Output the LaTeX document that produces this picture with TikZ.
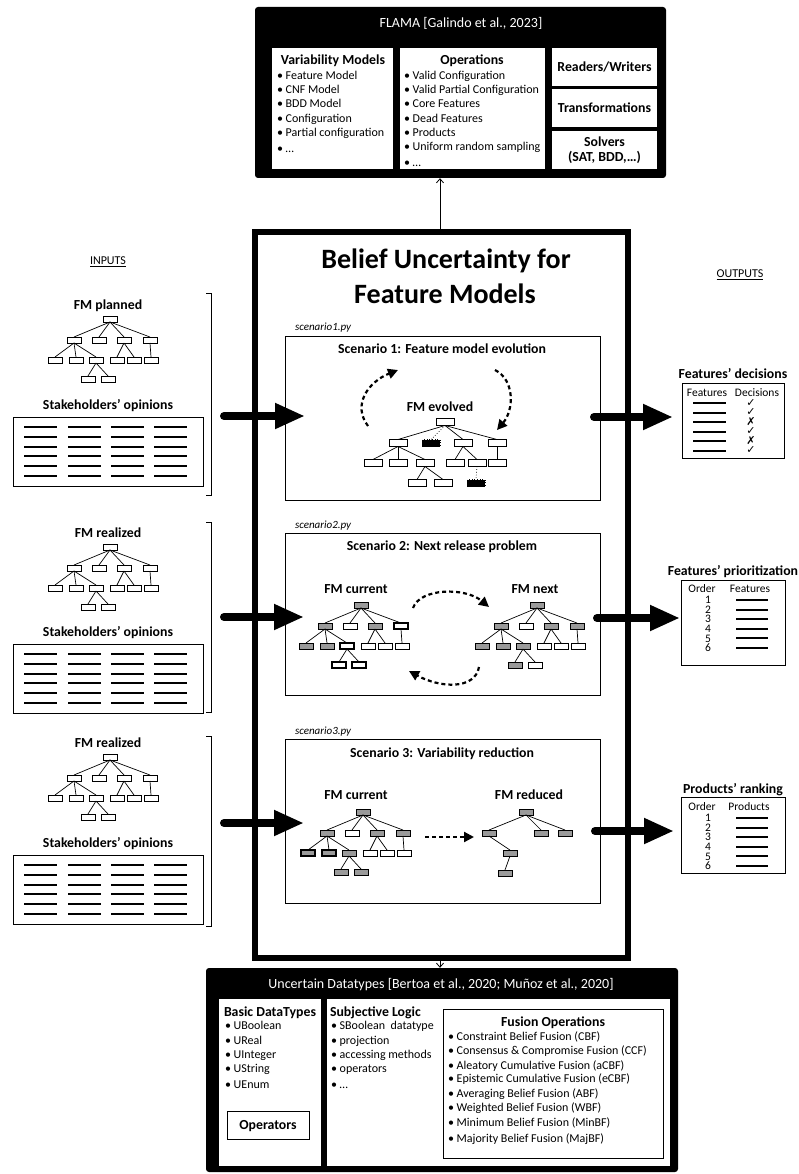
\documentclass[tikz,border=0pt]{standalone}
\usepackage{fontspec}
\setmainfont{Carlito}
\newfontfamily\symfont{DejaVu Sans}
\usetikzlibrary{arrows.meta,fit}
\definecolor{fmgray}{HTML}{9A9A9A}
\newcommand\fs[1]{\fontsize{#1}{#1}\selectfont}
% standard 13-box feature-model tree
\newcommand\fmtree[3]{%
 \node[fmbox,#1r/.try] (#1r) at (#2,#3) {};
 \node[fmbox,#1a/.try] (#1a) at (#2-36,#3+21) {};
 \node[fmbox,#1b/.try] (#1b) at (#2-11,#3+21) {};
 \node[fmbox,#1c/.try] (#1c) at (#2+14,#3+21) {};
 \node[fmbox,#1d/.try] (#1d) at (#2+40,#3+21) {};
 \node[fmbox,#1e/.try] (#1e) at (#2-55,#3+41) {};
 \node[fmbox,#1f/.try] (#1f) at (#2-34,#3+41) {};
 \node[fmbox,#1g/.try] (#1g) at (#2-14,#3+41) {};
 \node[fmbox,#1h/.try] (#1h) at (#2+7,#3+41) {};
 \node[fmbox,#1i/.try] (#1i) at (#2+24,#3+41) {};
 \node[fmbox,#1j/.try] (#1j) at (#2+41,#3+41) {};
 \node[fmbox,#1k/.try] (#1k) at (#2-22,#3+60) {};
 \node[fmbox,#1l/.try] (#1l) at (#2-2,#3+60) {};
 \foreach \xa/\xb in {r/a,r/b,r/c,r/d,a/e,a/f,a/g,g/k,g/l,c/h,c/i,d/j}
   \draw[edge] (#1\xa.south) -- (#1\xb.north);
}
% input group
\newcommand\ingroup[7]{% name, label, label base, root y, stake base, table top
 \node[ttl] (#1-lab) at (108,#3) {#2};
 \fmtree{#1-}{110}{#4}
 \node[ttl] (#1-st) at (108,#5) {Stakeholders’ opinions};
 \node[fit={(13,#6) (203,#6+69)}, draw, line width=0.8pt, inner sep=0pt] (#1-tab) {};
 \foreach \rr in {0,...,5} \foreach \cc in {24,68,111,154}
   \draw[tline] (\cc,#6+10+\rr*9.8) -- ++(33,0);
}
\begin{document}
\begin{tikzpicture}[x=1pt,y=-1pt,
 txt/.style={inner sep=0pt, outer sep=0pt},
 item/.style={txt, font=\fs{12}, anchor=base west},
 ttl/.style={txt, font=\fs{13.8}\bfseries, anchor=base},
 fmbox/.style={draw, line width=0.7pt, fill=white, minimum width=14pt, minimum height=6pt, inner sep=0pt, outer sep=0pt},
 fmbig/.style={fmbox, minimum width=18pt, minimum height=7pt},
 gb/.style={fill=fmgray},
 tb/.style={line width=1.8pt},
 kb/.style={fill=black},
 edge/.style={line width=0.7pt},
 tline/.style={line width=2pt},
 bigarrow/.style={line width=8pt, line cap=round, -{Triangle[length=30pt,width=24pt]}},
 dasharr/.style={line width=2.2pt, dash pattern=on 4pt off 3pt, -{Triangle[length=10pt,width=10pt]}},
 thinarr/.style={line width=0.8pt, -{Straight Barb[length=4pt,width=7pt]}},
 wbox/.style={fill=white, inner sep=0pt, outer sep=0pt},
 framebox/.style={draw, line width=0.8pt, inner sep=0pt, outer sep=0pt},
 % tree fills
 s2l-r/.style={gb}, s2l-a/.style={gb}, s2l-c/.style={gb}, s2l-d/.style={tb},
 s2l-e/.style={gb}, s2l-f/.style={gb}, s2l-g/.style={tb}, s2l-k/.style={tb}, s2l-l/.style={tb},
 s2r-r/.style={gb}, s2r-a/.style={gb}, s2r-c/.style={gb}, s2r-d/.style={gb},
 s2r-e/.style={gb}, s2r-f/.style={gb}, s2r-g/.style={gb}, s2r-k/.style={gb},
 s3l-r/.style={gb}, s3l-a/.style={gb}, s3l-c/.style={gb}, s3l-d/.style={gb},
 s3l-e/.style={gb,tb}, s3l-f/.style={gb,tb}, s3l-g/.style={gb}, s3l-k/.style={gb}, s3l-l/.style={gb},
]
\useasboundingbox (0,0) rectangle (798,1174);

% ---------------- FLAMA ----------------
\node[fit={(255,7) (666,178)}, fill=black, rounded corners=3pt, inner sep=0pt] (flama) {};
\node[txt, font=\fs{14}, text=white, anchor=base] (fl-t) at (461,28) {FLAMA [Galindo et al., 2023]};
\node[wbox, fit={(272,48) (393,169)}] (vm) {};
\node[wbox, fit={(400,48) (545,169)}] (op) {};
\node[wbox, fit={(552,48) (657,86)}] (rwb) {};
\node[wbox, fit={(552,89) (657,127)}] (trb) {};
\node[wbox, fit={(552,131) (657,169)}] (svb) {};
\node[ttl] (vm-t) at (333,64.5) {Variability Models};
\foreach \t [count=\n from 0] in {• Feature Model, • CNF Model, • BDD Model, • Configuration, • Partial configuration}
  \node[item] (vm-\n) at (277,79.5+\n*14.2) {\t};
\node[item] (vm-5) at (277,152.5) {• …};
\node[ttl] (op-t) at (472,64.5) {Operations};
\foreach \t [count=\n from 0] in {• Valid Configuration, • Valid Partial Configuration, • Core Features, • Dead Features, • Products, • Uniform random sampling}
  \node[item] (op-\n) at (404,79.5+\n*14.2) {\t};
\node[item] (op-6) at (404,167) {• …};
\node[ttl] (rw-t) at (604.5,71.5) {Readers/Writers};
\node[ttl] (tr-t) at (604.5,112.5) {Transformations};
\node[ttl] (sv-t1) at (604.5,146.5) {Solvers};
\node[ttl] (sv-t2) at (604.5,161.5) {(SAT, BDD,…)};

% ---------------- main box ----------------
\node[fit={(255,232) (628,958)}, draw, line width=6pt, inner sep=0pt] (main) {};
\node[txt, font=\fs{28}\bfseries, anchor=base] (bt1) at (446,268) {Belief Uncertainty for};
\node[txt, font=\fs{28}\bfseries, anchor=base] (bt2) at (445,303) {Feature Models};
\coordinate (ax) at (440,0);
\draw[thinarr] (main.north -| ax) -- (flama.south -| ax);

% labels INPUTS / OUTPUTS
\node[txt, font=\fs{12}] (inputs) at (108,262) {\underline{INPUTS}};
\node[txt, font=\fs{12}] (outputs) at (740,275) {\underline{OUTPUTS}};

% ---------------- input groups ----------------
\ingroup{g1}{FM planned}{309}{319}{409.5}{417}{}
\ingroup{g2}{FM realized}{537}{547}{636.5}{644}{}
\ingroup{g3}{FM realized}{747}{757}{847.5}{855}{}
\draw[line width=0.7pt] (206,293) -- (211,293) -- (211,495) -- (206,495);
\draw[line width=0.7pt] (206,522) -- (211,522) -- (211,712) -- (206,712);
\draw[line width=0.7pt] (206,736) -- (211,736) -- (211,926) -- (206,926);

% ---------------- scenario 1 ----------------
\node[txt, font=\fs{11}\itshape, anchor=base west] (sc1-f) at (295,330) {scenario1.py};
\node[fit={(285,336) (600,500)}, framebox] (sc1) {};
\node[ttl] (sc1-t) at (442,353.5) {Scenario 1: Feature model evolution};
\node[ttl] (sc1-l) at (440,411.5) {FM evolved};
\node[fmbig] (e1r) at (445,422) {};
\node[fmbig] (e1a) at (398,443) {};
\node[fmbig,kb,dotted] (e1b) at (431,443) {};
\node[fmbig] (e1c) at (463,443) {};
\node[fmbig] (e1d) at (497,443) {};
\node[fmbig] (e1e) at (373,463) {};
\node[fmbig] (e1f) at (398,463) {};
\node[fmbig] (e1g) at (425,463) {};
\node[fmbig] (e1h) at (455,463) {};
\node[fmbig] (e1i) at (477,463) {};
\node[fmbig] (e1j) at (497,463) {};
\node[fmbig] (e1k) at (417,483) {};
\node[fmbig] (e1l) at (443,483) {};
\node[fmbig,kb,dotted] (e1m) at (476,483) {};
\foreach \xa/\xb in {r/a,r/c,r/d,a/e,a/f,a/g,g/k,g/l,c/h,c/i,d/j}
  \draw[edge] (e1\xa.south) -- (e1\xb.north);
\draw[edge,dotted] (e1r.south) -- (e1b.north);
\draw[edge,dotted] (e1i.south) -- (e1m.north);
\coordinate (d1a) at (368,426); \coordinate (d1b) at (398,370);
\coordinate (d1c) at (495,370); \coordinate (d1d) at (497,430);
\draw[dasharr] (d1a) .. controls (352,405) and (368,382) .. (d1b);
\draw[dasharr] (d1c) .. controls (515,380) and (514,410) .. (d1d);

% ---------------- scenario 2 ----------------
\node[txt, font=\fs{11}\itshape, anchor=base west] (sc2-f) at (295,528) {scenario2.py};
\node[fit={(285,533) (600,695)}, framebox] (sc2) {};
\node[ttl] (sc2-t) at (442,550.5) {Scenario 2: Next release problem};
\node[ttl] (sc2-l1) at (356,593.5) {FM current};
\node[ttl] (sc2-l2) at (535,593.5) {FM next};
\fmtree{s2l-}{361}{605}
\fmtree{s2r-}{537}{605}
\coordinate (d2a) at (413,608); \coordinate (d2b) at (489,607);
\coordinate (d2c) at (479,667); \coordinate (d2d) at (409,671);
\draw[dasharr] (d2a) .. controls (420,588) and (465,587) .. (d2b);
\draw[dasharr] (d2c) .. controls (475,690) and (440,688) .. (d2d);

% ---------------- scenario 3 ----------------
\node[txt, font=\fs{11}\itshape, anchor=base west] (sc3-f) at (295,734) {scenario3.py};
\node[fit={(285,739) (600,903)}, framebox] (sc3) {};
\node[ttl] (sc3-t) at (442,757.5) {Scenario 3: Variability reduction};
\node[ttl] (sc3-l1) at (356,799.5) {FM current};
\node[ttl] (sc3-l2) at (529,799.5) {FM reduced};
\fmtree{s3l-}{363}{812}
\node[fmbox,gb] (rr) at (526,812) {};
\node[fmbox,gb] (ra) at (489,833) {};
\node[fmbox,gb] (rb) at (541,833) {};
\node[fmbox,gb] (rc) at (565,833) {};
\node[fmbox,gb] (rd) at (510,853) {};
\node[fmbox,gb] (re) at (505,873) {};
\foreach \xa/\xb in {r/a,r/b,r/c,a/d,d/e}
  \draw[edge] (r\xa.south) -- (r\xb.north);
\coordinate (d3a) at (425,837); \coordinate (d3b) at (474,837);
\draw[dasharr] (d3a) -- (d3b);

% ---------------- big arrows ----------------
\coordinate (i1a) at (224,416); \coordinate (i1b) at (305,416);
\coordinate (i2a) at (224,617); \coordinate (i2b) at (304,617);
\coordinate (i3a) at (224,823); \coordinate (i3b) at (304,823);
\draw[bigarrow] (i1a) -- (i1b);
\draw[bigarrow] (i2a) -- (i2b);
\draw[bigarrow] (i3a) -- (i3b);
\coordinate (o1a) at (594,417); \coordinate (o1b) at (673,417);
\coordinate (o2a) at (597,618); \coordinate (o2b) at (680,618);
\coordinate (o3a) at (595,831); \coordinate (o3b) at (674,831);
\draw[bigarrow] (o1a) -- (o1b);
\draw[bigarrow] (o2a) -- (o2b);
\draw[bigarrow] (o3a) -- (o3b);

% ---------------- outputs ----------------
\node[ttl] (dec-t) at (733,378.5) {Features’ decisions};
\node[fit={(682,383) (784,458)}, framebox] (dec) {};
\node[txt, font=\fs{11.5}, anchor=base] (dec-h1) at (707,396) {Features};
\node[txt, font=\fs{11.5}, anchor=base] (dec-h2) at (757,396) {Decisions};
\foreach \yy/\s [count=\n] in {403/✓,412.5/✓,422/✗,431.5/✓,441/✗,450.5/✓} {
  \draw[tline] (693,\yy) -- (726,\yy);
  \node[txt, font=\symfont\fs{11}] (dec-s\n) at (751,\yy) {\s};
}
\node[ttl] (pri-t) at (733,575.5) {Features’ prioritization};
\node[fit={(681,580) (785,665)}, framebox] (pri) {};
\node[txt, font=\fs{11.5}, anchor=base] (pri-h1) at (702,592) {Order};
\node[txt, font=\fs{11.5}, anchor=base] (pri-h2) at (750,592) {Features};
\foreach \yy [count=\n] in {600,609.6,619.2,628.8,638.4,648} {
  \node[txt, font=\fs{11.5}] (pri-n\n) at (708,\yy) {\n};
  \draw[tline] (736,\yy) -- (768,\yy);
}
\node[ttl] (rk-t) at (733,793.5) {Products’ ranking};
\node[fit={(681,797) (785,873)}, framebox] (rk) {};
\node[txt, font=\fs{11.5}, anchor=base] (rk-h1) at (702,810) {Order};
\node[txt, font=\fs{11.5}, anchor=base] (rk-h2) at (749,810) {Products};
\foreach \yy [count=\n] in {818,827.6,837.2,846.8,856.4,866} {
  \node[txt, font=\fs{11.5}] (rk-n\n) at (708,\yy) {\n};
  \draw[tline] (736,\yy) -- (768,\yy);
}

% ---------------- Uncertain datatypes ----------------
\node[fit={(206,968) (678,1172)}, fill=black, rounded corners=3pt, inner sep=0pt] (ud) {};
\draw[thinarr] (main.south -| ax) -- (ud.north -| ax);
\node[txt, font=\fs{14}, text=white, anchor=base] (ud-t) at (441,988) {Uncertain Datatypes [Bertoa et al., 2020; Muñoz et al., 2020]};
\node[wbox, fit={(219,999) (321,1166)}] (bd) {};
\node[wbox, fit={(327,999) (670,1166)}] (sl) {};
\node[ttl, anchor=base west] (bd-t) at (224,1016.5) {Basic DataTypes};
\foreach \t/\yy [count=\n] in {• UBoolean/1029.5, • UReal/1044.5, • UInteger/1058.5, • UString/1072.5, • UEnum/1088.5}
  \node[item] (bd-\n) at (225,\yy) {\t};
\node[fit={(227,1111) (309,1139)}, framebox, fill=white] (opb) {};
\node[ttl] (opb-t) at (268,1129.5) {Operators};
\node[ttl, anchor=base west] (sl-t) at (330,1016.5) {Subjective Logic};
\foreach \t/\yy [count=\n] in {• SBoolean\ \ datatype/1029.5, • projection/1044.5, • accessing methods/1058.5, • operators/1072.5, • …/1088.5}
  \node[item] (sl-\n) at (331,\yy) {\t};
\node[fit={(443,1009) (663,1158)}, framebox] (fu) {};
\node[ttl] (fu-t) at (553,1026.5) {Fusion Operations};
\foreach \t/\yy [count=\n] in {• Constraint Belief Fusion (CBF)/1040.6, • Consensus \& Compromise Fusion (CCF)/1054.6, • Aleatory Cumulative Fusion (aCBF)/1069.6, • Epistemic Cumulative Fusion (eCBF)/1082.6, • Averaging Belief Fusion (ABF)/1097.6, • Weighted Belief Fusion (WBF)/1111.6, • Minimum Belief Fusion (MinBF)/1126.6, • Majority Belief Fusion (MajBF)/1142.6}
  \node[item] (fu-\n) at (448,\yy) {\t};
\end{tikzpicture}
\end{document}
